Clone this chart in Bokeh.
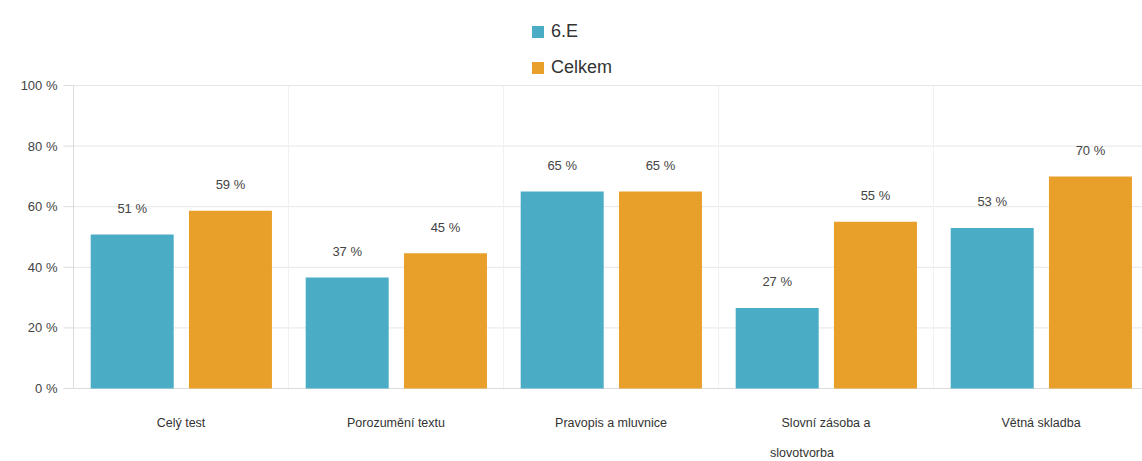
from bokeh.plotting import figure
from bokeh.models import ColumnDataSource, Range1d, Legend, LegendItem
from bokeh.core.properties import value
from bokeh.embed import file_html
from bokeh.resources import INLINE

categories = ["Celý test", "Porozumění textu", "Pravopis a mluvnice",
              "Slovní zásoba a\nslovotvorba", "Větná skladba"]
series_names = ["6.E", "Celkem"]
class_values = [50.8, 36.6, 65.0, 26.6, 53.0]
total_values = [58.7, 44.6, 65.0, 55.0, 70.0]
y_ticks = [0, 20, 40, 60, 80, 100]

colors = ["#4AACC5", "#E8A02A"]
FONT = "Liberation Sans"

# layout (pixels) -> data ranges; the whole canvas is the plotting frame
W, H = 1142, 461
X0_PX = 73            # left edge of the value axis
CAT_PX = 215.0        # width of one category
Y0_PX, Y100_PX = 388, 85
PPU_Y = (Y0_PX - Y100_PX) / 100.0

x_start = -X0_PX / CAT_PX
x_end = (W - X0_PX) / CAT_PX
y_start = -(H - Y0_PX) / PPU_Y
y_end = 100 + Y100_PX / PPU_Y

n = len(categories)
centers = [i + 0.5 for i in range(n)]

p = figure(width=W, height=H, output_backend="svg", toolbar_location=None,
           x_range=Range1d(x_start, x_end), y_range=Range1d(y_start, y_end),
           x_axis_type=None, y_axis_type=None,
           min_border_left=0, min_border_right=0, min_border_top=0, min_border_bottom=0)
p.outline_line_color = None
for g in p.grid:
    g.visible = False

# horizontal gridlines
p.segment(x0=[0] * len(y_ticks), y0=y_ticks, x1=[x_end] * len(y_ticks), y1=y_ticks,
          line_color="#e6e6e6", line_width=1)
# vertical category separators
seps = [float(i) for i in range(1, n)]
p.segment(x0=seps, y0=[0] * len(seps), x1=seps, y1=[100] * len(seps),
          line_color="#f1f1f1", line_width=1)
# axis lines
p.segment(x0=[0, 0], y0=[0, 0], x1=[0, x_end], y1=[100, 0],
          line_color="#dcdcdc", line_width=1)
# y tick marks
tick_len = 10 / CAT_PX
p.segment(x0=[-tick_len] * len(y_ticks), y0=y_ticks, x1=[0] * len(y_ticks), y1=y_ticks,
          line_color="#dcdcdc", line_width=1)
# y tick labels
p.text(x=[-16 / CAT_PX] * len(y_ticks), y=y_ticks, text=[f"{t} %" for t in y_ticks],
       text_align="right", text_baseline="middle", text_font=value(FONT),
       text_font_size=value("13px"), text_color="#444444")

# bars
bar_w = 83 / CAT_PX
offsets = [-0.227, 0.230]
label_gap = 26 / PPU_Y
renderers = []
for vals, off, col in zip([class_values, total_values], offsets, colors):
    xs = [c + off for c in centers]
    src = ColumnDataSource(dict(x=xs, top=vals))
    r = p.vbar(x="x", top="top", width=bar_w, bottom=0, source=src,
               fill_color=col, line_color=None)
    renderers.append(r)
    p.text(x=xs, y=[v + label_gap for v in vals], text=[f"{round(v)} %" for v in vals],
           text_align="center", text_baseline="middle", text_font=value(FONT),
           text_font_size=value("13px"), text_color="#444444")

# category labels (wrapped lines left-aligned under the first line)
first_y = -34 / PPU_Y
p.text(x=centers, y=[first_y] * n, text=[lab.split("\n")[0] for lab in categories],
       text_align="center", text_baseline="middle", text_font=value(FONT),
       text_font_size=value("12.5px"), text_color="#333333")
cx, cy, ct = [], [], []
for c, lab in zip(centers, categories):
    parts = lab.split("\n")
    for k, extra in enumerate(parts[1:], start=1):
        cx.append(c - 56 / CAT_PX)
        cy.append(-(34 + 30 * k) / PPU_Y)
        ct.append(extra)
if ct:
    p.text(x=cx, y=cy, text=ct, text_align="left", text_baseline="middle",
           text_font=value(FONT), text_font_size=value("12.5px"), text_color="#333333")

legend = Legend(items=[LegendItem(label=nm, renderers=[r]) for nm, r in zip(series_names, renderers)],
                orientation="vertical", location=(530, 383),
                label_text_font=FONT, label_text_font_size="18px", label_text_color="#333333",
                glyph_width=15, glyph_height=15, label_height=20, label_standoff=6,
                spacing=15, padding=8, margin=0, border_line_color=None,
                background_fill_alpha=0)
p.add_layout(legend)

open("out.html", "w").write(file_html(p, INLINE))
